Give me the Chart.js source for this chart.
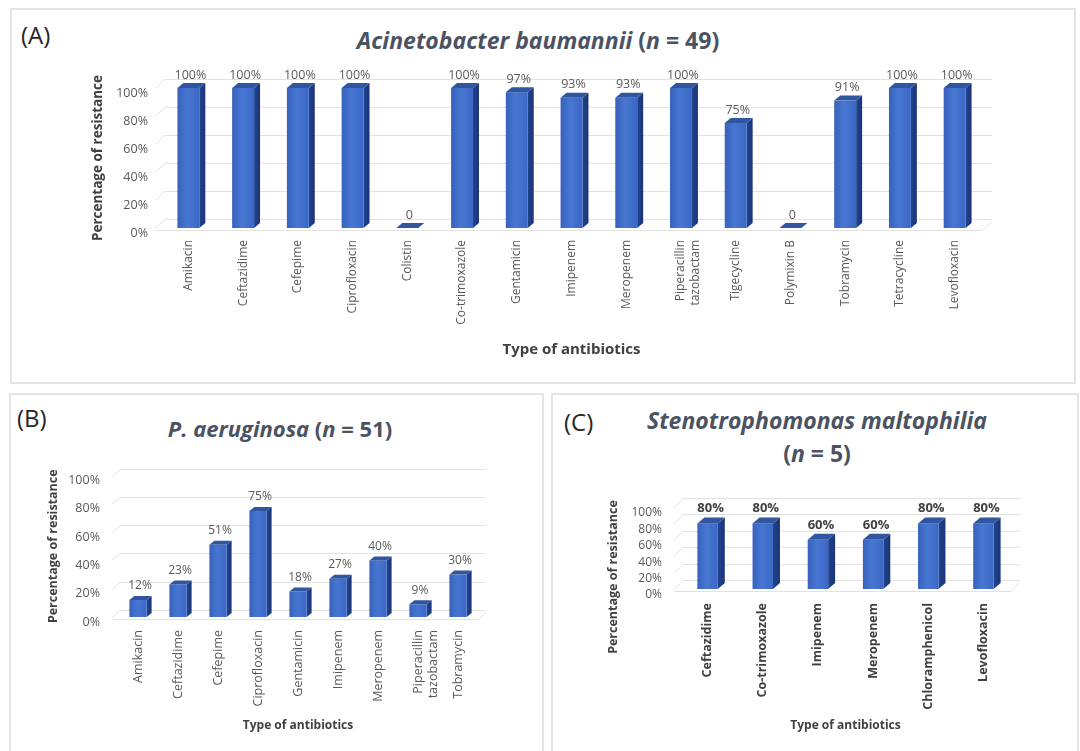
<!DOCTYPE html>
<html>
<head>
<meta charset="utf-8">
<script src="https://cdn.jsdelivr.net/npm/chart.js@4.4.1/dist/chart.umd.min.js"></script>
<style>
  html, body { margin: 0; padding: 0; background: #fff; width: 1080px; height: 751px; overflow: hidden; font-family: "Open Sans", Lato, sans-serif; }
  .panel { position: absolute; border: 2px solid #e4e4e4; box-sizing: border-box; background: #fff; }
  .letter { position: absolute; font-size: 24px; line-height: 26px; color: #262626; }
  .title { position: absolute; font-weight: bold; color: #4b5363; text-align: center; white-space: nowrap; }
  canvas { position: absolute; }
  .ytitle { position: absolute; width: 200px; height: 16px; line-height: 16px; text-align: center; transform: rotate(-90deg); font-weight: bold; font-size: 12.5px; color: #404040; white-space: nowrap; }
</style>
</head>
<body>
  <div class="panel" style="left:10px; top:8px; width:1066px; height:376px;"></div>
  <div class="panel" style="left:9px; top:393px; width:535px; height:370px;"></div>
  <div class="panel" style="left:551px; top:393px; width:528px; height:370px;"></div>

  <div class="letter" style="left:21px; top:22px;">(A)</div>
  <div class="letter" style="left:17px; top:405px;">(B)</div>
  <div class="letter" style="left:564px; top:409px;">(C)</div>

  <div class="title" style="left:238px; width:600px; top:27px; font-size:23px; line-height:26px;"><i>Acinetobacter baumannii</i> (<i>n</i> = 49)</div>
  <div class="title" style="left:80px; width:400px; top:416px; font-size:22px; line-height:24px;"><i>P. aeruginosa</i> (<i>n</i> = 51)</div>
  <div class="title" style="left:617px; width:400px; top:404px; font-size:23px; line-height:33px;"><i>Stenotrophomonas maltophilia</i><br>(<i>n</i> = 5)</div>

  <canvas id="chartA" width="1060" height="310" style="left:10px; top:60px; width:1060px; height:310px;"></canvas>
  <canvas id="chartB" width="535" height="290" style="left:8px; top:450px; width:535px; height:290px;"></canvas>
  <canvas id="chartC" width="526" height="260" style="left:552px; top:480px; width:526px; height:260px;"></canvas>
  <div class="ytitle" style="left:513px; top:569px;">Percentage of resistance</div>

<script>
// Resistance rates per antibiotic, one set of arrays per organism
const abCategories = ['Amikacin', 'Ceftazidime', 'Cefepime', 'Ciprofloxacin', 'Colistin', 'Co-trimoxazole',
  'Gentamicin', 'Imipenem', 'Meropenem', ['Piperacillin', 'tazobactam'], 'Tigecycline', 'Polymixin B',
  'Tobramycin', 'Tetracycline', 'Levofloxacin'];
const abResistance = [100, 100, 100, 100, 0, 100, 97, 93, 93, 100, 75, 0, 91, 100, 100];

const paCategories = ['Amikacin', 'Ceftazidime', 'Cefepime', 'Ciprofloxacin', 'Gentamicin', 'Imipenem',
  'Meropenem', ['Piperacillin', 'tazobactam'], 'Tobramycin'];
const paResistance = [12, 23, 51, 75, 18, 27, 40, 9, 30];

const smCategories = ['Ceftazidime', 'Co-trimoxazole', 'Imipenem', 'Meropenem', 'Chloramphenicol', 'Levofloxacin'];
const smResistance = [80, 80, 60, 60, 80, 80];

const percentTicks = [0, 20, 40, 60, 80, 100];
const axisTitleX = 'Type of antibiotics';
const axisTitleY = 'Percentage of resistance';

const FONT = '"Open Sans", Lato, sans-serif';

// Pseudo-3D columns: back wall with grid, floor, then front/side/top faces of each bar
const bar3d = {
  id: 'bar3d',
  beforeDatasetsDraw(chart, args, o) {
    const { ctx, chartArea: a, scales: { y } } = chart;
    const x0 = a.left - 6;
    const x1 = a.right;
    ctx.save();
    ctx.strokeStyle = '#e2e2e2';
    ctx.lineWidth = 1;
    y.ticks.forEach(t => {
      const py = Math.round(y.getPixelForValue(t.value) - o.wallDy) + 0.5;
      ctx.beginPath();
      ctx.moveTo(x0, py + o.wallDy);
      ctx.lineTo(x0 + o.wallDx, py);
      ctx.lineTo(x1 + o.wallDx, py);
      ctx.stroke();
    });
    const fy = Math.round(y.getPixelForValue(0)) + 2.5;
    ctx.beginPath();
    ctx.moveTo(x0, fy);
    ctx.lineTo(x1, fy);
    ctx.lineTo(x1 + o.wallDx, fy - o.wallDy);
    ctx.stroke();
    ctx.restore();
  },
  afterDatasetsDraw(chart, args, o) {
    const { ctx } = chart;
    const meta = chart.getDatasetMeta(0);
    ctx.save();
    meta.data.forEach(bar => {
      const { x, y, base, width } = bar.getProps(['x', 'y', 'base', 'width'], true);
      const l = x - width / 2, r = x + width / 2;
      // side face
      const sg = ctx.createLinearGradient(r, 0, r + o.dx, 0);
      sg.addColorStop(0, '#22438f');
      sg.addColorStop(1, '#1a3577');
      ctx.fillStyle = sg;
      ctx.beginPath();
      ctx.moveTo(r, y);
      ctx.lineTo(r + o.dx, y - o.dy);
      ctx.lineTo(r + o.dx, base - o.dy);
      ctx.lineTo(r, base);
      ctx.closePath();
      ctx.fill();
      // front face
      if (base - y > 0) {
        const fg = ctx.createLinearGradient(l, 0, r, 0);
        fg.addColorStop(0, '#3761bd');
        fg.addColorStop(0.45, '#4877d2');
        fg.addColorStop(1, '#3a67c5');
        ctx.fillStyle = fg;
        ctx.fillRect(l, y, width, base - y);
      }
      // top face
      ctx.fillStyle = '#2f569f';
      ctx.beginPath();
      ctx.moveTo(l, y);
      ctx.lineTo(l + o.dx, y - o.dy);
      ctx.lineTo(r + o.dx, y - o.dy);
      ctx.lineTo(r, y);
      ctx.closePath();
      ctx.fill();
    });
    ctx.restore();
  }
};

// Value captions above each column
const valueTags = {
  id: 'valueTags',
  afterDatasetsDraw(chart, args, o) {
    const { ctx } = chart;
    const meta = chart.getDatasetMeta(0);
    const values = chart.data.datasets[0].data;
    ctx.save();
    ctx.font = o.font;
    ctx.fillStyle = o.color;
    ctx.textAlign = 'center';
    ctx.textBaseline = 'middle';
    meta.data.forEach((bar, i) => {
      const v = values[i];
      const text = v === 0 ? '0' : v + '%';
      ctx.fillText(text, bar.x + o.dx, bar.y - o.offset);
    });
    ctx.restore();
  }
};

function makeChart(id, cats, vals, cfg) {
  return new Chart(document.getElementById(id), {
    type: 'bar',
    data: {
      labels: cats,
      datasets: [{
        data: vals,
        backgroundColor: 'rgba(0,0,0,0)',
        borderWidth: 0,
        barPercentage: cfg.barPct,
        categoryPercentage: 1
      }]
    },
    options: {
      responsive: false,
      animation: false,
      events: [],
      layout: { padding: cfg.pad },
      plugins: {
        legend: { display: false },
        tooltip: { enabled: false },
        bar3d: cfg.depth,
        valueTags: cfg.tags
      },
      scales: {
        x: {
          grid: { display: false, drawTicks: false },
          border: { display: false },
          ticks: {
            autoSkip: false, minRotation: 90, maxRotation: 90, padding: cfg.xTickPad,
            color: cfg.xTickColor, font: { family: FONT, size: cfg.xTickSize, weight: cfg.xTickWeight }
          },
          title: {
            display: true, text: axisTitleX, color: '#404040', padding: { top: 0, bottom: 0 },
            font: { family: FONT, size: cfg.xTitleSize, weight: 'bold' }
          },
          afterFit: s => { s.height = cfg.xHeight; }
        },
        y: {
          min: 0, max: 100,
          grid: { display: false, drawTicks: false },
          border: { display: false },
          afterBuildTicks: s => { s.ticks = percentTicks.map(v => ({ value: v })); },
          ticks: {
            autoSkip: false,
            padding: cfg.yTickPad, labelOffset: cfg.yLabelOffset, color: '#595959',
            font: { family: FONT, size: cfg.yTickSize },
            callback: v => v + '%'
          },
          title: {
            display: cfg.yTitle, text: axisTitleY, color: '#404040', padding: { top: 0, bottom: 0 },
            font: { family: FONT, size: cfg.yTitleSize, weight: 'bold' }
          },
          afterFit: s => { s.width = cfg.yWidth; }
        }
      }
    },
    plugins: [bar3d, valueTags]
  });
}

makeChart('chartA', abCategories, abResistance, {
  barPct: 0.4,
  pad: { left: 80, right: 88, top: 28, bottom: 11 },
  yWidth: 71, yTickPad: 13, yLabelOffset: 5, yTickSize: 12.5, yTitle: true, yTitleSize: 13.5,
  xHeight: 131, xTickPad: 12, xTickSize: 12, xTickWeight: 'normal', xTickColor: '#595959', xTitleSize: 15,
  depth: { dx: 6, dy: 5, wallDx: 10, wallDy: 9 },
  tags: { offset: 13, dx: 2, font: '12.5px ' + FONT, color: '#595959' }
});

makeChart('chartB', paCategories, paResistance, {
  barPct: 0.43,
  pad: { left: 38, right: 65, top: 24, bottom: 7 },
  yWidth: 72, yTickPad: 18, yLabelOffset: 5, yTickSize: 12.5, yTitle: true, yTitleSize: 12.5,
  xHeight: 116, xTickPad: 13, xTickSize: 12.5, xTickWeight: 'normal', xTickColor: '#595959', xTitleSize: 12,
  depth: { dx: 5, dy: 4, wallDx: 8, wallDy: 7 },
  tags: { offset: 14, dx: 2, font: '12px ' + FONT, color: '#595959' }
});

makeChart('chartC', smCategories, smResistance, {
  barPct: 0.37,
  pad: { left: 54, right: 67, top: 27, bottom: 7 },
  yWidth: 74, yTickPad: 18, yLabelOffset: 6, yTickSize: 12, yTitle: false, yTitleSize: 12.5,
  xHeight: 144, xTickPad: 14, xTickSize: 12.5, xTickWeight: 'bold', xTickColor: '#404040', xTitleSize: 12,
  depth: { dx: 7, dy: 6, wallDx: 9, wallDy: 9 },
  tags: { offset: 15, dx: 3, font: 'bold 13px ' + FONT, color: '#404040' }
});
</script>
</body>
</html>
